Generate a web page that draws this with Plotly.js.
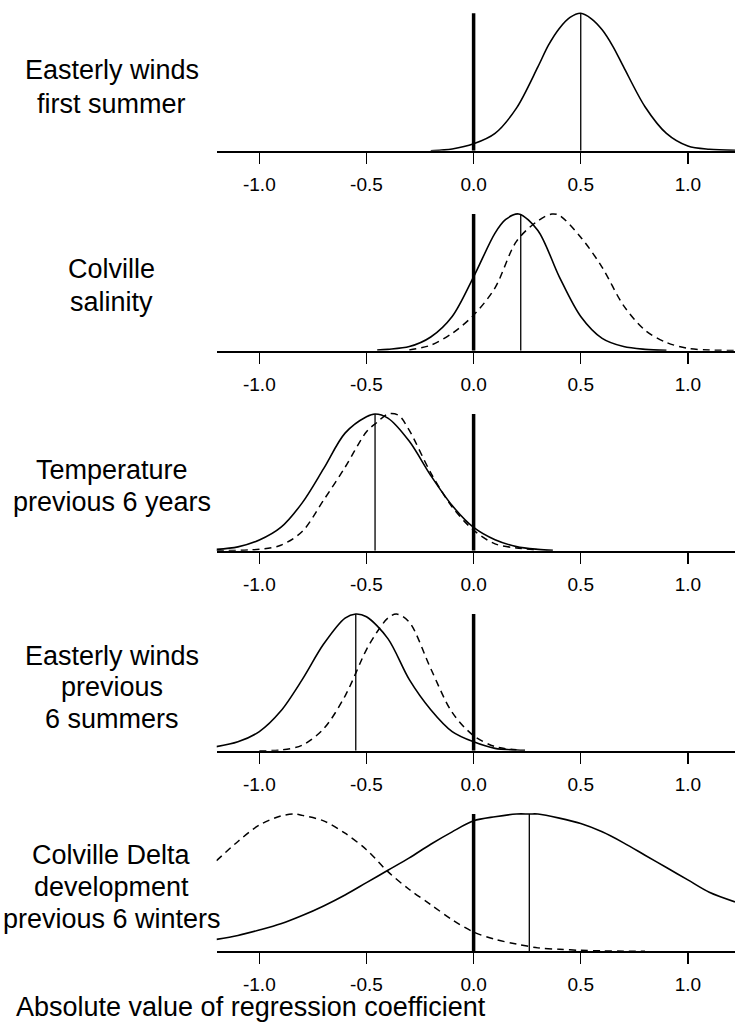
<!DOCTYPE html>
<html>
<head>
<meta charset="utf-8">
<script src="https://cdn.plot.ly/plotly-3.0.1.min.js"></script>
<style>
  html, body { margin: 0; padding: 0; background: #ffffff; }
  #chart { width: 735px; height: 1022px; }
</style>
</head>
<body>
<div id="chart"></div>
<script>
// ---------------- DATA ----------------
const panelLabels = [
  ["Easterly winds", "first summer"],
  ["Colville", "salinity"],
  ["Temperature", "previous 6 years"],
  ["Easterly winds", "previous", "6 summers"],
  ["Colville Delta", "development", "previous 6 winters"]
];
const axisTitle = "Absolute value of regression coefficient";
const tickValues = [-1.0, -0.5, 0.0, 0.5, 1.0];
const tickLabels = ["-1.0", "-0.5", "0.0", "0.5", "1.0"];

// position of the thin vertical (estimate) line in each panel
const meanValues = [0.5, 0.22, -0.46, -0.55, 0.26];

// Panel 1 - solid curve
const p1SolidX = [-0.2, -0.15, -0.1, 0.0, 0.1, 0.2, 0.3, 0.35, 0.4, 0.45, 0.5, 0.55, 0.6, 0.65, 0.7, 0.8, 0.9, 1.0, 1.1, 1.22];
const p1SolidY = [0.0, 0.005, 0.012, 0.05, 0.126, 0.31, 0.61, 0.77, 0.89, 0.97, 1.0, 0.96, 0.88, 0.76, 0.61, 0.32, 0.126, 0.034, 0.01, 0.003];

// Panel 2 - solid and dashed curves
const p2SolidX = [-0.45, -0.4, -0.3, -0.2, -0.1, 0.0, 0.1, 0.15, 0.21, 0.3, 0.4, 0.5, 0.6, 0.7, 0.8, 0.9];
const p2SolidY = [0.005, 0.01, 0.03, 0.1, 0.25, 0.54, 0.86, 0.96, 1.0, 0.88, 0.54, 0.25, 0.09, 0.03, 0.01, 0.003];
const p2DashX = [-0.3, -0.2, -0.1, 0.0, 0.1, 0.2, 0.3, 0.365, 0.4, 0.5, 0.6, 0.7, 0.8, 0.9, 1.0, 1.1, 1.22];
const p2DashY = [0.005, 0.04, 0.127, 0.26, 0.46, 0.8, 0.95, 1.0, 0.99, 0.83, 0.61, 0.33, 0.15, 0.06, 0.017, 0.005, 0.002];

// Panel 3 - solid and dashed curves
const p3SolidX = [-1.2, -1.1, -1.0, -0.9, -0.8, -0.7, -0.6, -0.5, -0.46, -0.4, -0.3, -0.2, -0.1, 0.0, 0.1, 0.2, 0.3, 0.37];
const p3SolidY = [0.01, 0.028, 0.078, 0.17, 0.35, 0.6, 0.86, 0.98, 1.0, 0.97, 0.8, 0.55, 0.33, 0.17, 0.08, 0.03, 0.01, 0.003];
const p3DashX = [-1.2, -1.0, -0.9, -0.8, -0.7, -0.6, -0.5, -0.45, -0.4, -0.35, -0.3, -0.2, -0.1, 0.0, 0.1, 0.2, 0.3];
const p3DashY = [0.0, 0.01, 0.04, 0.14, 0.37, 0.61, 0.87, 0.94, 1.0, 0.99, 0.88, 0.57, 0.32, 0.15, 0.05, 0.02, 0.005];

// Panel 4 - solid and dashed curves
const p4SolidX = [-1.2, -1.1, -1.0, -0.9, -0.8, -0.7, -0.6, -0.55, -0.5, -0.4, -0.3, -0.2, -0.1, 0.0, 0.1, 0.2, 0.24];
const p4SolidY = [0.03, 0.065, 0.14, 0.29, 0.52, 0.78, 0.97, 1.0, 0.98, 0.82, 0.52, 0.3, 0.14, 0.065, 0.017, 0.005, 0.003];
const p4DashX = [-1.0, -0.9, -0.8, -0.7, -0.6, -0.5, -0.45, -0.4, -0.36, -0.3, -0.2, -0.1, 0.0, 0.1, 0.2];
const p4DashY = [0.0, 0.005, 0.04, 0.16, 0.4, 0.74, 0.87, 0.97, 1.0, 0.94, 0.6, 0.28, 0.11, 0.03, 0.007];

// Panel 5 - solid and dashed curves
const p5SolidX = [-1.2, -1.1, -1.0, -0.9, -0.8, -0.7, -0.6, -0.5, -0.4, -0.3, -0.2, -0.1, 0.0, 0.1, 0.2, 0.26, 0.3, 0.4, 0.5, 0.6, 0.7, 0.8, 0.9, 1.0, 1.1, 1.22];
const p5SolidY = [0.087, 0.115, 0.155, 0.2, 0.26, 0.33, 0.41, 0.5, 0.59, 0.68, 0.78, 0.87, 0.95, 0.98, 1.0, 1.0, 1.0, 0.97, 0.93, 0.87, 0.79, 0.7, 0.61, 0.52, 0.43, 0.36];
const p5DashX = [-1.2, -1.1, -1.0, -0.9, -0.84, -0.8, -0.7, -0.6, -0.5, -0.4, -0.3, -0.2, -0.1, 0.0, 0.1, 0.2, 0.3, 0.4, 0.5, 0.6, 0.7, 0.8];
const p5DashY = [0.66, 0.8, 0.92, 0.985, 1.0, 0.99, 0.95, 0.86, 0.74, 0.58, 0.45, 0.34, 0.23, 0.14, 0.087, 0.053, 0.025, 0.015, 0.007, 0.003, 0.001, 0.0];

const solidSeries = [[p1SolidX, p1SolidY], [p2SolidX, p2SolidY], [p3SolidX, p3SolidY], [p4SolidX, p4SolidY], [p5SolidX, p5SolidY]];
const dashSeries = [null, [p2DashX, p2DashY], [p3DashX, p3DashY], [p4DashX, p4DashY], [p5DashX, p5DashY]];

// ---------------- LAYOUT GEOMETRY (pixels) ----------------
const W = 735, H = 1022;
const FONT = "Liberation Sans, Arial, Helvetica, sans-serif";
const axisPy = [150.7, 350.7, 550.7, 750.7, 951.3];
const peakPy = [13.3, 214, 414, 614, 814];
const yTop = 1.03;
const plotLeftPx = 216.5;
const labelCenterPx = 111.5;
const labelBaselines = [[79, 113], [278.3, 311.7], [479.3, 511.7], [665, 696.7, 728.3], [864, 896.7, 928.3]];
const titleBaseline = 1016, titleLeftPx = 14;

const traces = [];
const layout = {
  width: W, height: H,
  margin: {l: 0, r: 0, t: 0, b: 0, pad: 0},
  paper_bgcolor: "#ffffff", plot_bgcolor: "rgba(0,0,0,0)",
  showlegend: false,
  font: {family: FONT, color: "#000000"},
  annotations: []
};

for (let i = 0; i < 5; i++) {
  const n = i + 1;
  const xa = "x" + (n === 1 ? "" : n), ya = "y" + (n === 1 ? "" : n);
  const xKey = "xaxis" + (n === 1 ? "" : n), yKey = "yaxis" + (n === 1 ? "" : n);
  const h = axisPy[i] - peakPy[i];
  const topPx = peakPy[i] - h * (yTop - 1);
  layout[xKey] = {
    domain: [plotLeftPx / W, 1],
    range: [-1.2, 1.22],
    anchor: ya,
    showline: true, linecolor: "#000000", linewidth: 2,
    ticks: "outside", ticklen: 11, tickwidth: 1.5, tickcolor: "#000000",
    tickmode: "array", tickvals: tickValues, ticktext: tickLabels,
    tickfont: {family: FONT, size: 19, color: "#000000"},
    ticklabelstandoff: 4,
    showgrid: false, zeroline: false, fixedrange: true
  };
  layout[yKey] = {
    domain: [1 - axisPy[i] / H, 1 - topPx / H],
    range: [0, yTop],
    anchor: xa,
    visible: false, showgrid: false, zeroline: false, fixedrange: true
  };

  // thick zero reference line
  traces.push({x: [0, 0], y: [0, 1], xaxis: xa, yaxis: ya, mode: "lines",
    line: {color: "#000000", width: 3.5}, hoverinfo: "skip"});
  // thin estimate line
  traces.push({x: [meanValues[i], meanValues[i]], y: [0, 1], xaxis: xa, yaxis: ya, mode: "lines",
    line: {color: "#000000", width: 1.3}, hoverinfo: "skip"});
  if (dashSeries[i]) {
    traces.push({x: dashSeries[i][0], y: dashSeries[i][1], xaxis: xa, yaxis: ya, mode: "lines",
      line: {color: "#000000", width: 1.5, dash: "7px,5px", shape: "spline", smoothing: 0.9}, hoverinfo: "skip"});
  }
  traces.push({x: solidSeries[i][0], y: solidSeries[i][1], xaxis: xa, yaxis: ya, mode: "lines",
    line: {color: "#000000", width: 1.6, shape: "spline", smoothing: 0.9}, hoverinfo: "skip"});

  panelLabels[i].forEach((txt, k) => {
    layout.annotations.push({
      text: txt, xref: "paper", yref: "paper",
      x: labelCenterPx / W, y: 1 - (labelBaselines[i][k] - 9.4) / H,
      xanchor: "center", yanchor: "middle", showarrow: false,
      font: {family: FONT, size: 27, color: "#000000"}
    });
  });
}

layout.annotations.push({
  text: axisTitle, xref: "paper", yref: "paper",
  x: titleLeftPx / W, y: 1 - (titleBaseline - 9.4) / H,
  xanchor: "left", yanchor: "middle", showarrow: false,
  font: {family: FONT, size: 27, color: "#000000"}
});

Plotly.newPlot("chart", traces, layout, {staticPlot: true, displayModeBar: false});
</script>
</body>
</html>
